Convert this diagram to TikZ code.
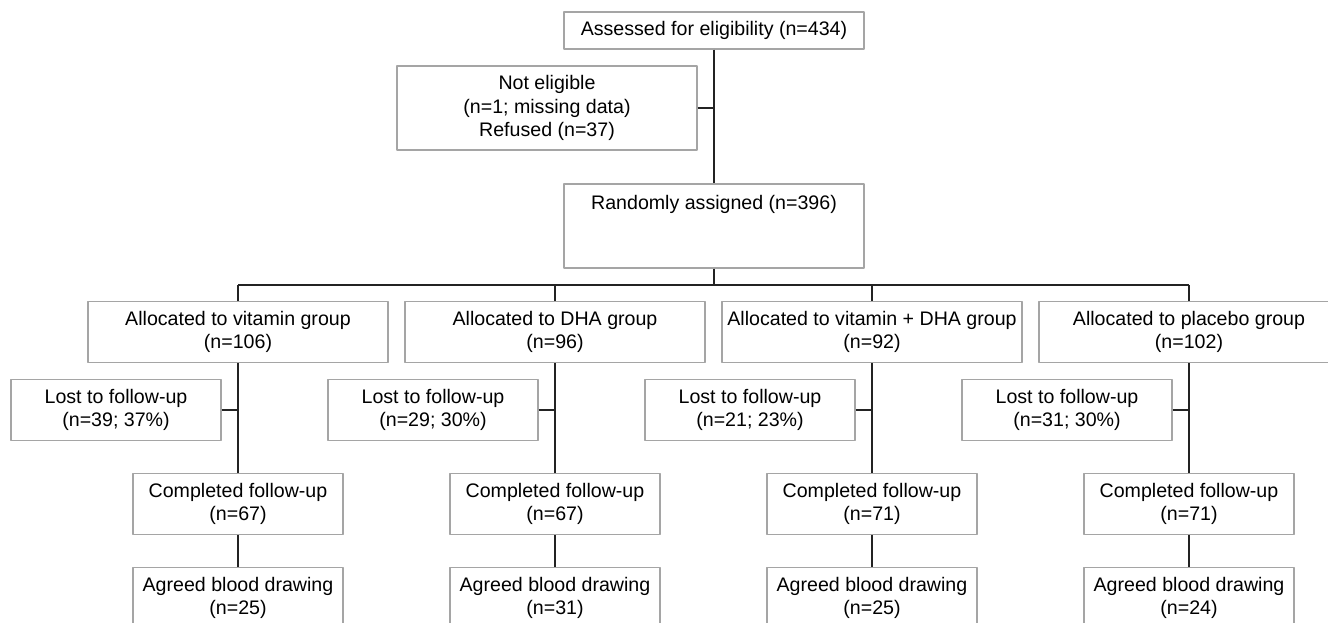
\documentclass[tikz,border=0pt]{standalone}
\usepackage{fontspec}
\setmainfont{Liberation Sans}
\definecolor{boxgray}{RGB}{165,165,165}
\definecolor{linedark}{RGB}{35,35,35}
\begin{document}
\begin{tikzpicture}[x=1pt,y=-1pt,line join=round]
 \tikzset{box/.style={draw=boxgray,line width=1.1pt,align=center,inner sep=0pt,font=\fontsize{19.6}{23.3}\selectfont,minimum height=61pt},
  wide/.style={box,minimum width=300pt},
  small/.style={box,minimum width=210pt},
  link/.style={draw=linedark,line width=1.3pt}}
 \useasboundingbox (0,0) rectangle (1328,623);
 % top part
 \node[wide,minimum height=37pt] (assess) at (714,30.5) {Assessed for eligibility (n=434)};
 \node[wide,minimum height=84pt] (noelig) at (547,108) {Not eligible\\(n=1; missing data)\\Refused (n=37)};
 \node[wide,minimum height=84pt] (random) at (714,226) {Randomly assigned (n=396)\\\mbox{}\\\mbox{}};
 \coordinate (split) at (714,285);
 % groups
 \node[wide] (vit) at (238,332) {Allocated to vitamin group\\(n=106)};
 \node[wide] (dha) at (555,332) {Allocated to DHA group\\(n=96)};
 \node[wide] (vitdha) at (872,332) {Allocated to vitamin + DHA group\\(n=92)};
 \node[wide] (plac) at (1189,332) {Allocated to placebo group\\(n=102)};
 % lost to follow-up
 \node[small] (lostvit) at (116,410) {Lost to follow-up\\(n=39; 37\%)};
 \node[small] (lostdha) at (433,410) {Lost to follow-up\\(n=29; 30\%)};
 \node[small] (lostvitdha) at (750,410) {Lost to follow-up\\(n=21; 23\%)};
 \node[small] (lostplac) at (1067,410) {Lost to follow-up\\(n=31; 30\%)};
 % completed
 \node[small] (compvit) at (238,504) {Completed follow-up\\(n=67)};
 \node[small] (compdha) at (555,504) {Completed follow-up\\(n=67)};
 \node[small] (compvitdha) at (872,504) {Completed follow-up\\(n=71)};
 \node[small] (compplac) at (1189,504) {Completed follow-up\\(n=71)};
 % blood
 \node[small] (bloodvit) at (238,598) {Agreed blood drawing\\(n=25)};
 \node[small] (blooddha) at (555,598) {Agreed blood drawing\\(n=31)};
 \node[small] (bloodvitdha) at (872,598) {Agreed blood drawing\\(n=25)};
 \node[small] (bloodplac) at (1189,598) {Agreed blood drawing\\(n=24)};
 % connectors
 \draw[link] (assess.south) -- (random.north);
 \draw[link] (noelig.east) -- (noelig.east -| assess.south);
 \draw[link] (random.south) -- (split);
 \draw[link] (vit.north |- split) -- (plac.north |- split);
 \draw[link] (vit.north |- split) -- (vit.north) (dha.north |- split) -- (dha.north)
  (vitdha.north |- split) -- (vitdha.north) (plac.north |- split) -- (plac.north);
 \draw[link] (vit.south) -- (compvit.north) (lostvit.east) -- (lostvit.east -| vit.south);
 \draw[link] (dha.south) -- (compdha.north) (lostdha.east) -- (lostdha.east -| dha.south);
 \draw[link] (vitdha.south) -- (compvitdha.north) (lostvitdha.east) -- (lostvitdha.east -| vitdha.south);
 \draw[link] (plac.south) -- (compplac.north) (lostplac.east) -- (lostplac.east -| plac.south);
 \draw[link] (compvit.south) -- (bloodvit.north) (compdha.south) -- (blooddha.north)
  (compvitdha.south) -- (bloodvitdha.north) (compplac.south) -- (bloodplac.north);
\end{tikzpicture}
\end{document}
